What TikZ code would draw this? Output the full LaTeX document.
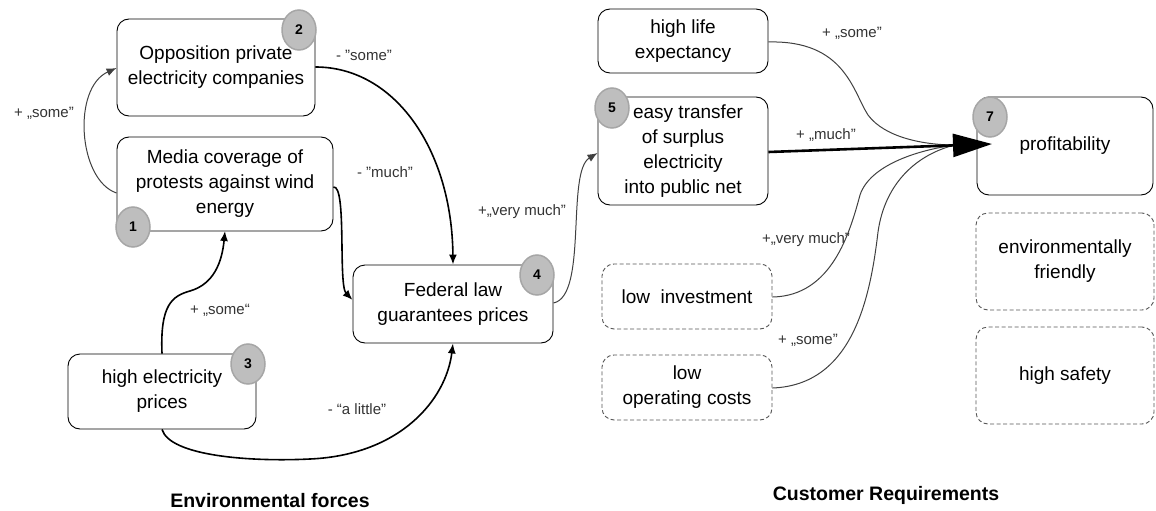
\documentclass[tikz,border=0pt]{standalone}
\usepackage{fontspec}
\setmainfont{Liberation Sans}
\usetikzlibrary{shapes.geometric,arrows.meta}
\definecolor{badgefill}{HTML}{BEBEBE}
\definecolor{badgeline}{HTML}{A6A6A6}
\definecolor{thinline}{HTML}{404040}
\definecolor{dashline}{HTML}{555555}
\begin{document}
\begin{tikzpicture}[x=1pt,y=-1pt,
  box/.style={draw=black,line width=0.9pt,rounded corners=12pt,align=center,
    inner sep=0pt,font=\fontsize{19}{25}\selectfont},
  optbox/.style={box,draw=dashline,dash pattern=on 4pt off 2.5pt},
  badge/.style={ellipse,draw=badgeline,line width=1.5pt,fill=badgefill,
    minimum width=34pt,minimum height=40pt,inner sep=0pt,
    font=\fontsize{14}{14}\selectfont\bfseries},
  lbl/.style={font=\fontsize{15}{15}\selectfont,text=black!80,inner sep=0pt},
  title/.style={font=\fontsize{19.5}{21}\selectfont\bfseries},
  thick link/.style={line width=1.6pt,-{Latex[length=10pt,width=8pt]}},
  thin link/.style={draw=thinline,line width=1pt,-{Latex[length=10pt,width=8pt]}},
  feed/.style={draw=thinline,line width=1pt}]
\useasboundingbox (0,0) rectangle (1156,511);

% factors on the left
\node[box,minimum width=198pt,minimum height=97pt] (b2) at (216,67.5) {Opposition private\\electricity companies};
\node[box,minimum width=216pt,minimum height=94pt] (b1) at (225,184) {Media coverage of\\protests against wind\\energy};
\node[box,minimum width=188pt,minimum height=75pt] (b3) at (162,391.5) {high electricity\\prices};
\node[box,minimum width=200pt,minimum height=78pt] (b4) at (453,304) {Federal law\\guarantees prices};

% requirements on the right
\node[box,minimum width=170pt,minimum height=64pt] (hl) at (683,41) {high life\\expectancy};
\node[box,minimum width=170pt,minimum height=108pt] (b5) at (683,151) {\hspace*{10pt}easy transfer\\of surplus\\electricity\\into public net};
\node[box,minimum width=176pt,minimum height=98pt] (b7) at (1065,146) {profitability};
\node[optbox,minimum width=170pt,minimum height=65pt] (li) at (687,296.5) {low\ \ investment};
\node[optbox,minimum width=170pt,minimum height=65pt] (lo) at (687,387.5) {low\\operating costs};
\node[optbox,minimum width=178pt,minimum height=97pt] (ef) at (1065,261.5) {environmentally\\friendly};
\node[optbox,minimum width=178pt,minimum height=97pt] (hs) at (1065,375.5) {high safety};

% numbered badges
\node[badge] (n2) at (299,30) {2};
\node[badge] (n1) at (133,227) {1};
\node[badge] (n3) at (248,364) {3};
\node[badge] (n4) at (537,275) {4};
\node[badge] (n5) at (612,108) {5};
\node[badge] (n7) at (990,117) {7};

% points where the influences on profitability meet
\coordinate (hub) at (955,145);
\coordinate (tip) at (992,144);

% influences among the environmental forces
\draw[thin link] (b1.west |- 0,193) .. controls (78,180) and (72,88) .. (b2.west |- 0,68);
\draw[thick link] (b2.east |- 0,67) .. controls (395,67) and (452,150) .. (b4.north);
\draw[thick link] (b1.east |- 0,187) .. controls (347,185) and (338,285) .. (b4.west |- 0,300);
\draw[thick link] (b3.north) .. controls (160,305) and (172,296) .. (190,291)
  .. controls (214,284) and (222,262) .. (b1.south |- 0,231);
\draw[thick link] (b3.south) .. controls (170,456) and (250,462) .. (310,459)
  .. controls (400,455) and (446,400) .. (b4.south);
\draw[thin link] (b4.east |- 0,303) .. controls (588,296) and (566,172) .. (b5.west |- 0,153);

% influences on profitability
\draw[feed] (hl.east |- 0,42) .. controls (845,40) and (853,92) .. (868,115)
  .. controls (885,138) and (925,145) .. (hub);
\draw[feed] (li.east |- 0,297) .. controls (832,296) and (850,232) .. (860,195)
  .. controls (870,165) and (918,150) .. (hub);
\draw[feed] (lo.east |- 0,388) .. controls (852,385) and (870,300) .. (878,232)
  .. controls (885,182) and (918,154) .. (hub);
\draw[line width=2.6pt,-{Triangle[length=39pt,width=23pt]}] (b5.east |- 0,152) -- (tip);

% strength labels
\node[lbl] (l1) at (44,113) {+ „some"};
\node[lbl] (l2) at (364,55) {- "some"};
\node[lbl] (l3) at (385,172) {- "much"};
\node[lbl] (l4) at (220,310) {+ „some“};
\node[lbl] (l5) at (357,409) {- “a little”};
\node[lbl] (l6) at (522,212) {+„very much"};
\node[lbl] (l7) at (852,33) {+ „some"};
\node[lbl] (l8) at (826,135) {+ „much"};
\node[lbl] (l9) at (806,240) {+„very much"};
\node[lbl] (l10) at (808,340) {+ „some"};

% group titles
\node[title] (t1) at (270,501) {Environmental forces};
\node[title] (t2) at (886,495) {Customer Requirements};
\end{tikzpicture}
\end{document}
